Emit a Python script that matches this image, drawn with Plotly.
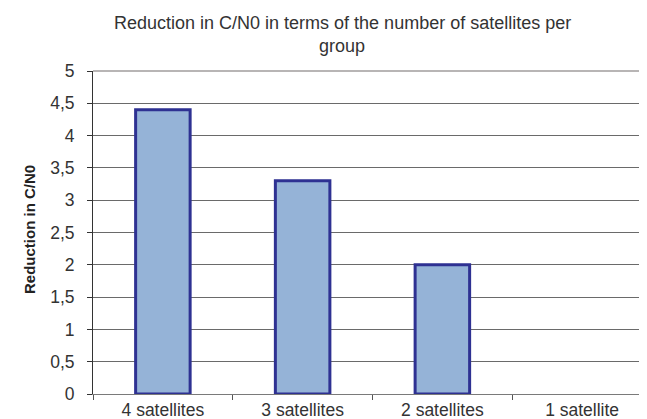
import plotly.graph_objects as go

categories = ["4 satellites", "3 satellites", "2 satellites", "1 satellite"]
values = [4.4, 3.3, 2.0, 0.0]
y_tick_vals = [0, 0.5, 1, 1.5, 2, 2.5, 3, 3.5, 4, 4.5, 5]
y_tick_text = ["0", "0,5", "1", "1,5", "2", "2,5", "3", "3,5", "4", "4,5", "5"]
title_lines = ["Reduction in C/N0 in terms of the number of satellites per", "group"]
y_title = "Reduction in C/N0"

FONT = "Liberation Sans, Arial, sans-serif"
W, H = 647, 419
ML, MR, MT, MB = 85, 3, 63, 33
PW, PH = W - ML - MR, H - MT - MB


def px_x(x):
    return (x - ML) / PW


def px_y(y):
    return (H - MB - y) / PH


fig = go.Figure()
fig.add_trace(go.Bar(
    x=categories, y=values,
    marker=dict(color="#95B3D7",
                line=dict(color="#2E3192", width=[3 if v else 0 for v in values])),
    width=0.39,
))

fig.update_layout(
    width=W, height=H,
    margin=dict(l=ML, r=MR, t=MT, b=MB),
    paper_bgcolor="white", plot_bgcolor="white",
    showlegend=False,
    font=dict(family=FONT, size=16, color="#333333"),
    annotations=[
        dict(text=title_lines[0], xref="paper", yref="paper", x=px_x(334), y=px_y(15),
             xanchor="center", yanchor="middle", showarrow=False,
             font=dict(family=FONT, size=18, color="#333333")),
        dict(text=title_lines[1], xref="paper", yref="paper", x=px_x(334), y=px_y(38),
             xanchor="center", yanchor="middle", showarrow=False,
             font=dict(family=FONT, size=18, color="#333333")),
        dict(text="<b>" + y_title + "</b>", xref="paper", yref="paper", x=px_x(21), y=px_y(222),
             xanchor="center", yanchor="middle", showarrow=False, textangle=-90,
             font=dict(family=FONT, size=15, color="#222222")),
    ],
)

fig.update_xaxes(
    showline=True, linecolor="#7a7a7a", linewidth=1,
    ticks="outside", ticklen=5, tickcolor="#555555", tickson="boundaries",
    showgrid=False, mirror=False,
    tickfont=dict(family=FONT, size=17.5, color="#333333"),
    range=[-0.5, 3.5],
)
fig.update_yaxes(
    range=[0, 5], tickvals=y_tick_vals, ticktext=y_tick_text,
    showline=True, linecolor="#333333", linewidth=1,
    ticks="outside", ticklen=5, tickcolor="#333333",
    showgrid=True, gridcolor="#6a6a6a", gridwidth=1,
    zeroline=False,
    tickfont=dict(family=FONT, size=17.5, color="#333333"),
    ticklabelstandoff=9,
)

# top and right border
fig.add_shape(type="line", xref="paper", yref="paper", x0=0, x1=1, y0=1, y1=1,
              line=dict(color="#a09c9c", width=1.5))
fig.add_shape(type="line", xref="paper", yref="paper", x0=1, x1=1, y0=0, y1=1,
              line=dict(color="#a09c9c", width=1.5))

fig.write_html("out.html")
